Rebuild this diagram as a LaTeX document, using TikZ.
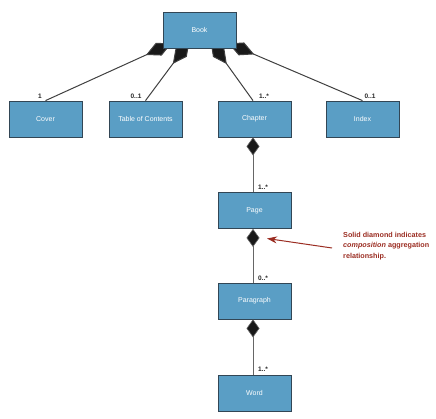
\documentclass[tikz,border=0pt]{standalone}
\usepackage{fontspec}
\setmainfont{Liberation Sans}
\usetikzlibrary{arrows.meta,calc,backgrounds}
\definecolor{boxblue}{RGB}{90,158,197}
\definecolor{boxedge}{RGB}{50,70,85}
\definecolor{annred}{RGB}{155,45,34}
\tikzset{
  umlbox/.style={draw=boxedge, line width=0.8pt, fill=boxblue, minimum width=73pt, minimum height=36pt, inner sep=0pt, text=white, font=\fontsize{7}{8}\selectfont},
  mult/.style={font=\bfseries\fontsize{6.5}{7}\selectfont, inner sep=0pt, text=black!85},
  compo/.style={draw=black!75, line width=1pt, {Diamond[length=28pt,width=14pt,fill=black!90]}-},
  compov/.style={draw=black!60, line width=1pt, {Diamond[length=18pt,width=13pt,fill=black!90,line width=0.6pt]}-},
  annot/.style={draw=annred, line width=1pt, -{Stealth[length=10pt,width=7pt]}}
}
\begin{document}
\begin{tikzpicture}[x=1pt,y=-1pt]
\useasboundingbox (0,0) rectangle (436,419);
\node[umlbox] (book) at (199.5,30) {Book};
\node[umlbox] (cover) at (45.5,119) {Cover};
\node[umlbox] (toc) at (145.5,119) {Table of Contents};
\node[umlbox] (chapter) at (254.5,119) {Chapter};
\node[umlbox] (index) at (362.5,119) {Index};
\node[umlbox] (page) at (254.5,210.5) {Page};
\node[umlbox] (paragraph) at (254.5,301) {Paragraph};
\node[umlbox] (word) at (254.5,393) {Word};
\begin{pgfonlayer}{background}
\fill[white] (0,0) rectangle (436,419);
% composition links from Book (diamonds partly hidden behind the box)
\draw[compo] ($(book.south)+(-28,-5)$) -- (cover.north);
\draw[compo] ($(book.south)+(-10,-7)$) -- (toc.north);
\draw[compo] ($(book.south)+(11,-7)$) -- ($(chapter.north)+(-1.5,0)$);
\draw[compo] ($(book.south)+(29,-5)$) -- (index.north);
\end{pgfonlayer}
% vertical compositions
\draw[compov] ($(chapter.south)+(-1.5,0)$) -- ($(page.north)+(-1.5,0)$);
\draw[compov] ($(page.south)+(-1.5,0)$) -- ($(paragraph.north)+(-1.5,0)$);
\draw[compov] ($(paragraph.south)+(-1.5,0)$) -- ($(word.north)+(-1.5,0)$);
% multiplicities
\node[mult] (m1) at (40,96.5) {1};
\node[mult] (m2) at (136,96.5) {0..1};
\node[mult] (m3) at (264,96.5) {1..*};
\node[mult] (m4) at (370,96.5) {0..1};
\node[mult] (m5) at (263,187.5) {1..*};
\node[mult] (m6) at (263,278.5) {0..*};
\node[mult] (m7) at (263,369.5) {1..*};
% annotation
\node[anchor=north west, align=left, inner sep=0pt, text=annred, font=\bfseries\fontsize{7.2}{10.5}\selectfont] (note) at (343,232) {Solid diamond indicates\\\textit{composition} aggregation\\relationship.};
\coordinate (anntail) at (332,248);
\coordinate (anntip) at (267,238.5);
\draw[annot] (anntail) -- (anntip);
\end{tikzpicture}
\end{document}
